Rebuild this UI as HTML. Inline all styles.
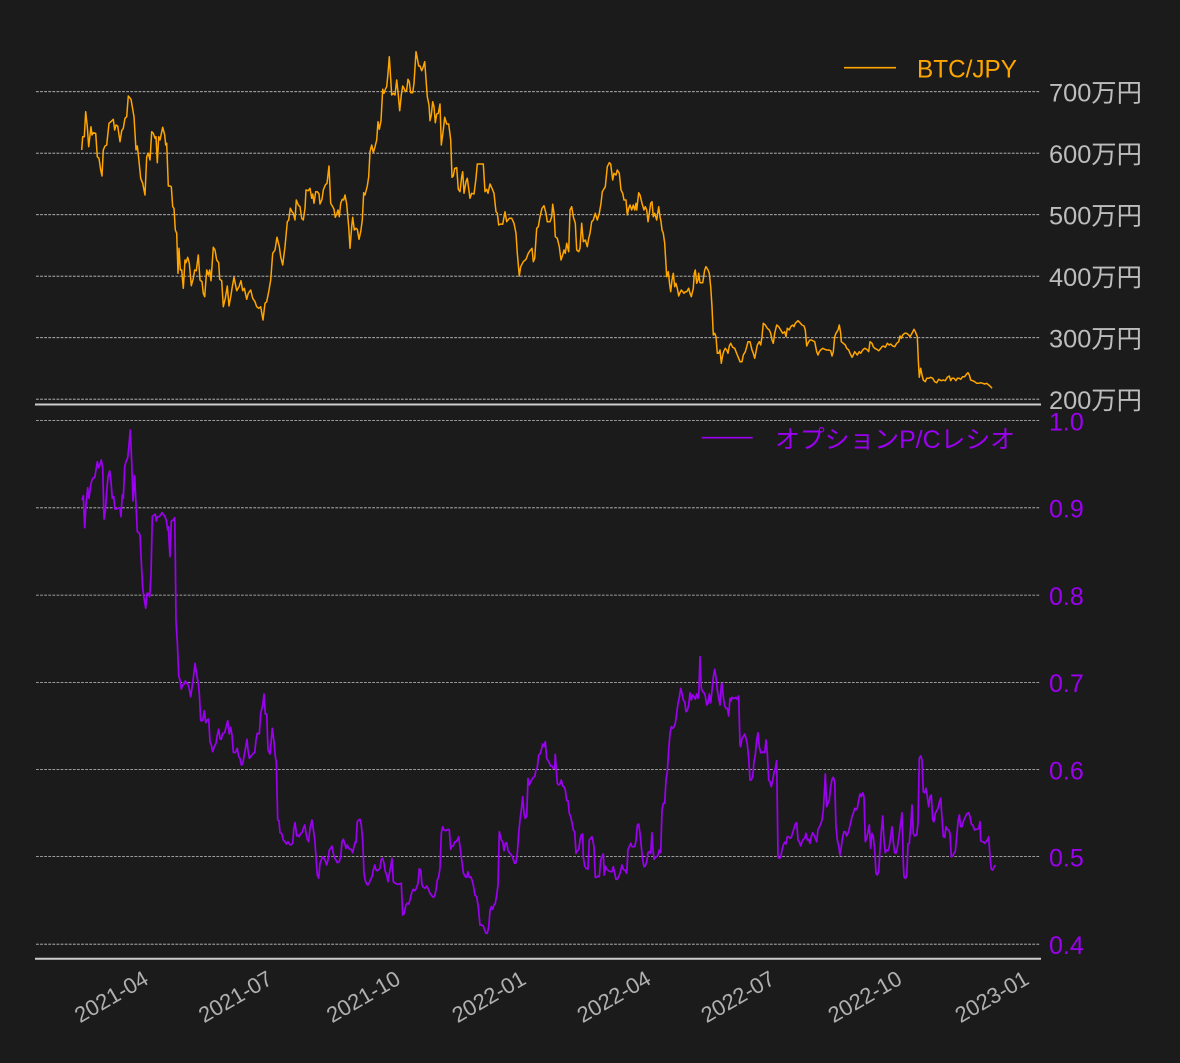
<!DOCTYPE html>
<html>
<head>
<meta charset="utf-8">
<style>
html,body{margin:0;padding:0;background:#1b1b1b;}
svg{display:block;}
text{font-family:"Liberation Sans","Noto Sans CJK JP",sans-serif;}
</style>
</head>
<body>
<svg width="1180" height="1063" viewBox="0 0 1180 1063" xmlns="http://www.w3.org/2000/svg">
<rect x="0" y="0" width="1180" height="1063" fill="#1b1b1b"/>

<!-- top grid -->
<g stroke="#c4c4c4" stroke-width="0.8" stroke-dasharray="2.8 1.3" fill="none">
<line x1="36" y1="91.7" x2="1040" y2="91.7"/>
<line x1="36" y1="153.2" x2="1040" y2="153.2"/>
<line x1="36" y1="214.7" x2="1040" y2="214.7"/>
<line x1="36" y1="276.2" x2="1040" y2="276.2"/>
<line x1="36" y1="337.7" x2="1040" y2="337.7"/>
<line x1="36" y1="399.2" x2="1040" y2="399.2"/>
</g>
<!-- bottom grid -->
<g stroke="#c4c4c4" stroke-width="0.8" stroke-dasharray="2.8 1.3" fill="none">
<line x1="36" y1="420.5" x2="1040" y2="420.5"/>
<line x1="36" y1="507.8" x2="1040" y2="507.8"/>
<line x1="36" y1="595.1" x2="1040" y2="595.1"/>
<line x1="36" y1="682.4" x2="1040" y2="682.4"/>
<line x1="36" y1="769.5" x2="1040" y2="769.5"/>
<line x1="36" y1="856.6" x2="1040" y2="856.6"/>
<line x1="36" y1="944.2" x2="1040" y2="944.2"/>
</g>

<!-- spines -->
<line x1="35" y1="404.5" x2="1041" y2="404.5" stroke="#cccccc" stroke-width="2"/>
<line x1="35" y1="958.7" x2="1041" y2="958.7" stroke="#cccccc" stroke-width="2"/>

<!-- BTC/JPY series -->
<polyline fill="none" stroke="#ffa500" stroke-width="1.5" stroke-linejoin="round" points="
81.7,150.0 82.7,136.7 84.3,136.7 85.7,111.7 87.3,126.7 88.7,146.7 91.0,126.7 92.0,135.0 93.3,132.7 95.7,133.3 97.3,156.7 99.0,158.3 100.7,170.0 102.0,176.0 103.3,150.0 105.0,146.0 106.7,145.0 109.0,123.3 111.7,121.0 113.3,119.3 114.7,130.0 116.0,125.0 117.7,126.0 120.0,141.7 121.7,130.7 123.3,128.3 125.0,118.3 126.7,116.7 128.3,96.0 131.0,99.3 134.0,116.7 136.0,150.0 137.3,146.0 138.7,158.3 140.7,178.3 142.7,183.3 145.0,195.0 146.7,156.7 148.3,153.3 150.0,160.0 151.7,131.7 153.3,133.3 155.0,138.3 156.0,136.7 157.3,162.7 158.7,136.7 160.0,140.0 162.7,127.3 164.7,135.0 165.7,145.0 166.7,143.3 168.3,186.0 170.0,186.0 171.3,186.7 172.7,206.7 174.0,208.3 175.3,230.0 176.7,233.3 178.0,273.3 179.0,248.3 180.3,270.0 181.7,270.0 183.3,288.3 185.0,260.0 186.0,262.7 187.7,257.3 189.3,263.3 191.3,285.7 193.3,278.3 194.7,270.0 196.3,270.7 198.3,255.0 200.0,280.0 202.0,281.7 203.3,293.3 204.7,296.7 206.7,270.0 208.3,275.0 209.7,270.0 211.0,280.7 213.3,247.3 215.0,250.0 216.7,260.0 218.7,262.7 219.7,279.3 221.7,280.7 223.3,306.7 225.3,298.3 227.3,286.0 229.0,306.0 231.0,295.0 232.3,286.7 234.0,277.3 236.7,290.7 239.0,286.7 241.0,280.7 242.7,290.7 244.3,288.3 246.7,299.3 248.3,293.3 250.7,290.0 252.7,298.3 255.0,301.7 256.7,306.7 258.7,308.3 260.7,306.7 263.0,320.0 265.0,303.3 266.7,301.7 268.7,291.7 270.7,280.0 272.7,253.3 275.0,250.0 277.0,237.3 279.3,246.7 280.7,256.7 282.7,265.0 285.0,246.7 287.3,221.7 288.7,220.0 290.3,208.3 292.0,211.7 293.3,213.3 295.0,220.0 296.3,200.0 298.3,205.0 300.0,206.7 301.7,218.3 303.3,220.0 305.0,208.3 306.0,190.0 308.3,190.7 310.0,188.3 311.7,198.3 312.7,194.0 314.0,203.3 315.7,191.7 317.3,191.7 319.0,194.0 320.0,204.0 322.0,199.3 323.3,190.0 325.3,185.0 327.0,183.3 329.0,166.0 330.7,203.3 332.7,206.7 334.0,209.3 335.3,217.3 336.7,214.0 338.0,210.0 339.3,216.7 340.7,203.3 342.3,199.3 343.7,200.0 345.0,195.0 346.7,204.0 348.7,226.7 350.0,248.3 351.7,226.7 352.7,217.3 354.3,230.0 356.0,228.3 357.3,229.3 359.0,239.3 360.7,231.7 362.3,220.0 363.7,192.7 365.0,195.0 367.3,186.0 368.7,176.7 370.0,151.7 371.7,145.0 373.3,152.7 375.0,146.7 376.7,140.0 378.0,121.7 379.3,129.3 381.0,120.7 382.7,89.3 384.0,93.3 385.3,89.3 386.7,86.7 388.0,73.3 389.3,56.7 391.7,95.0 393.3,93.3 395.0,95.0 396.7,80.0 398.3,95.0 399.7,110.7 401.3,95.0 402.7,86.0 404.0,88.3 405.3,91.7 406.7,90.0 408.0,79.3 409.3,81.7 410.7,92.7 412.7,92.7 414.0,83.3 416.0,51.7 417.3,58.3 418.7,66.0 420.0,66.0 421.7,70.7 423.3,66.7 424.7,61.7 427.3,96.7 429.0,105.0 430.0,120.7 431.3,115.0 432.7,101.7 434.0,106.7 435.3,122.7 436.7,114.0 438.3,113.3 440.0,104.0 441.3,145.0 443.3,130.0 444.7,117.3 446.7,124.0 448.7,124.0 450.7,140.0 452.0,177.3 453.3,176.0 454.7,168.3 456.7,167.7 458.3,189.3 460.0,191.7 461.7,176.7 462.7,171.7 464.0,193.3 466.0,181.7 467.3,178.3 470.0,198.3 471.7,193.3 474.0,194.0 476.0,178.3 477.3,164.0 480.0,164.0 482.0,164.0 483.3,164.0 485.0,191.7 486.7,189.3 488.0,193.3 490.0,184.0 492.0,188.3 494.0,193.3 496.0,211.7 497.3,213.3 498.7,225.0 500.7,224.0 502.7,224.3 505.0,211.7 506.7,221.7 509.3,218.3 511.7,218.3 514.0,223.3 516.0,233.3 517.3,253.3 519.3,276.0 520.7,266.7 523.3,261.7 526.0,259.3 528.3,253.3 530.0,250.7 532.0,248.3 533.3,261.7 534.7,258.3 536.7,228.3 538.3,226.7 540.0,216.7 542.0,208.3 544.0,205.7 546.0,213.3 547.3,221.7 550.0,221.7 551.7,216.7 552.7,204.3 554.0,213.3 555.3,236.7 557.3,238.3 559.3,246.7 561.0,260.0 562.7,255.0 564.0,250.0 565.3,253.3 566.7,243.3 568.7,251.7 570.0,210.0 571.7,206.7 573.3,216.7 575.3,223.3 576.7,250.0 578.7,251.7 580.0,248.3 581.7,223.3 583.3,241.7 585.3,240.0 587.3,246.7 588.7,238.3 590.0,233.3 591.7,221.7 593.3,220.0 595.3,213.3 597.3,220.0 599.3,213.3 601.0,203.3 602.3,191.7 603.3,190.0 605.3,186.7 607.3,166.7 609.3,162.7 610.7,164.0 612.7,180.0 614.0,173.3 616.0,175.0 617.3,170.0 619.3,173.3 621.0,190.0 622.7,193.3 624.0,200.0 626.0,200.0 627.3,215.0 628.7,208.3 630.0,205.0 631.7,210.0 633.3,205.0 634.7,210.0 636.0,203.3 636.7,210.0 638.7,192.7 640.0,195.0 642.0,203.3 644.0,210.0 645.3,206.7 646.7,210.0 648.0,221.7 649.3,213.3 650.7,203.3 652.0,201.7 653.3,216.7 654.7,213.3 656.7,220.0 658.7,206.7 660.0,216.7 661.0,221.7 662.0,230.0 663.3,233.3 664.7,243.3 666.7,276.7 668.3,271.7 669.7,285.0 670.7,291.7 672.0,280.0 673.3,273.3 674.7,286.7 676.0,283.3 677.3,288.3 678.7,296.0 680.0,292.7 681.3,290.0 682.7,291.7 684.0,293.3 685.3,291.7 686.7,291.7 688.7,288.3 690.0,293.3 691.3,296.7 693.3,288.3 694.3,273.3 695.3,270.0 696.7,283.3 698.0,280.0 698.7,273.3 700.0,282.7 702.7,282.7 704.7,270.0 706.0,266.7 708.0,270.0 709.3,273.3 710.7,286.7 712.0,306.7 713.3,335.0 714.7,333.3 716.0,336.7 717.3,353.3 718.7,353.3 720.0,350.0 721.3,363.3 722.7,355.0 724.0,350.7 725.3,348.3 726.7,350.0 728.0,353.3 729.3,346.0 730.7,343.3 732.7,347.3 734.7,348.3 736.0,351.7 737.3,355.0 738.7,358.3 740.0,361.7 742.0,361.7 743.3,355.0 745.3,351.7 746.7,346.7 748.0,341.7 750.0,341.7 752.0,350.0 753.3,353.3 754.7,358.3 756.0,351.7 757.3,345.0 759.3,341.7 760.7,345.0 762.0,336.7 763.3,323.3 765.3,325.0 767.3,328.3 769.3,330.0 770.7,333.3 772.0,340.0 773.3,343.3 774.7,333.3 776.7,325.0 778.7,326.7 780.7,330.0 782.7,333.3 784.7,331.7 786.0,336.7 787.3,328.3 789.3,330.0 790.7,326.7 792.7,325.0 794.0,326.7 795.3,323.3 798.0,320.7 800.0,322.7 802.0,325.0 804.0,326.0 805.3,330.0 806.7,346.0 808.7,341.7 810.0,340.0 811.3,340.0 813.3,341.0 814.7,341.7 816.7,351.7 818.0,355.0 819.3,351.7 820.7,350.0 822.7,348.3 824.7,349.3 826.7,350.0 828.7,350.0 830.7,350.7 832.0,356.0 833.3,351.7 834.7,336.7 836.0,333.3 838.0,330.0 839.3,325.0 840.7,333.3 841.3,341.7 843.3,343.3 845.3,345.0 846.7,348.3 848.7,350.0 850.0,353.3 852.0,357.3 853.3,355.0 854.7,351.7 856.0,353.3 857.3,355.0 859.3,351.7 860.7,353.3 862.7,350.0 864.7,348.3 866.7,349.3 868.7,351.7 870.0,341.7 872.0,343.3 873.3,346.7 874.7,348.3 876.7,349.3 878.7,350.7 880.0,349.3 882.0,346.7 883.3,346.0 885.3,347.3 887.3,343.3 889.3,345.0 890.7,344.0 892.7,346.0 894.7,346.7 896.7,343.3 898.7,341.7 900.0,336.0 901.3,338.3 902.7,335.0 904.7,333.3 906.7,333.3 908.7,335.0 910.0,336.7 912.0,333.3 914.0,329.3 915.3,331.7 917.3,336.7 918.3,360.0 919.3,377.3 920.7,368.3 922.0,375.0 923.3,380.0 925.3,381.7 926.7,378.3 928.7,378.3 930.7,377.3 932.7,378.3 934.7,381.7 936.7,382.7 938.7,379.3 941.3,380.7 943.3,380.0 945.3,380.7 947.3,377.3 949.3,376.0 950.7,380.7 952.0,378.3 954.0,378.3 956.0,380.7 957.3,378.3 959.3,378.3 960.7,379.3 962.7,376.7 964.7,376.7 966.7,374.0 968.0,372.7 969.3,375.0 970.7,380.0 972.7,380.7 974.7,381.7 976.7,383.3 978.7,383.3 980.7,382.7 982.7,383.3 984.7,384.0 986.7,383.3 988.7,385.0 990.7,386.7 992.0,388.3"/>

<!-- P/C ratio series -->
<polyline fill="none" stroke="#9b00f0" stroke-width="1.7" stroke-linejoin="round" points="
82.0,500.0 83.3,495.7 84.7,527.7 86.0,505.0 87.7,487.7 89.0,498.3 90.7,485.0 92.0,480.0 93.3,477.7 94.7,477.7 96.0,470.0 97.3,461.7 98.7,467.7 100.0,464.3 101.3,460.0 102.7,468.3 104.0,519.0 105.3,511.7 106.7,491.7 108.0,476.7 109.7,471.0 111.0,481.7 112.3,498.3 113.7,496.7 115.0,509.0 116.7,509.0 118.7,507.7 120.0,508.3 121.0,516.7 122.3,495.0 123.3,498.3 124.7,466.7 126.0,461.7 127.7,457.7 129.0,445.0 130.3,430.0 131.7,461.7 133.0,501.0 134.7,475.7 136.0,505.0 137.3,531.7 138.7,532.3 140.0,535.0 141.3,561.7 142.7,588.3 144.0,597.7 145.7,608.3 147.0,593.3 148.3,593.3 149.7,596.7 151.0,575.0 152.3,516.7 154.0,515.0 155.3,514.3 156.3,521.0 157.7,516.7 159.3,516.7 160.7,515.0 162.0,512.7 163.3,514.3 165.0,516.7 166.3,520.0 167.7,530.0 168.3,526.7 169.3,545.0 170.0,556.7 171.3,521.0 173.3,520.0 174.7,517.7 175.3,555.0 176.0,621.7 177.3,641.7 178.7,675.7 180.0,680.0 181.3,689.0 182.7,685.0 184.0,684.3 185.3,681.0 186.7,683.3 188.0,684.3 189.3,689.0 190.7,696.7 192.0,687.7 193.3,678.3 195.0,663.3 196.0,670.0 197.3,678.3 198.3,683.3 199.3,693.3 200.7,720.7 202.7,720.7 204.3,710.7 205.7,722.7 207.0,720.0 208.7,719.0 210.0,741.7 211.3,745.0 212.7,751.7 214.0,747.3 216.0,743.3 217.3,735.0 218.7,729.3 220.0,738.7 221.3,739.3 222.7,733.3 224.7,732.7 226.0,727.3 227.7,720.7 229.3,734.0 230.7,727.3 232.0,735.0 233.3,752.3 235.3,752.7 237.3,748.3 238.7,756.7 240.0,758.3 241.3,765.0 242.7,764.0 244.0,756.7 245.3,749.3 247.0,739.3 248.0,750.0 249.3,758.3 250.7,756.7 252.0,755.0 253.3,753.3 254.7,752.7 256.0,740.0 257.3,733.3 259.3,734.0 260.7,713.3 262.7,705.0 264.0,694.0 265.3,714.0 266.7,714.0 268.0,750.0 270.0,754.0 271.3,740.0 272.3,728.3 274.0,741.7 275.3,756.7 276.3,761.7 277.7,820.0 279.0,820.7 280.0,832.7 281.7,833.3 283.3,840.0 285.0,841.7 286.3,844.0 288.0,841.7 289.3,844.0 290.7,845.0 292.7,843.3 293.7,830.0 295.0,822.7 296.0,830.0 296.7,836.0 298.0,835.0 299.3,836.7 300.7,833.3 302.0,832.7 303.3,828.3 304.7,825.0 306.0,833.3 307.3,839.3 308.7,841.7 310.0,828.3 312.0,820.0 313.3,829.3 314.7,839.3 316.0,856.7 317.3,875.0 318.7,878.3 320.0,863.3 321.3,860.0 322.7,856.7 324.0,858.3 325.3,860.7 326.7,865.0 328.0,860.0 329.3,850.0 330.7,848.3 332.0,846.0 333.3,853.3 334.7,858.3 336.0,860.0 337.3,862.7 339.3,861.7 340.7,856.7 342.0,841.7 343.3,839.3 344.7,843.3 346.0,848.3 347.3,845.0 348.7,848.3 350.0,849.3 351.3,849.3 352.7,852.7 354.0,846.7 355.3,841.7 356.0,842.7 357.3,821.7 358.7,820.0 360.0,819.3 361.3,825.0 362.7,840.0 364.0,873.3 365.3,880.7 366.7,884.0 368.0,885.0 369.3,882.7 370.7,879.3 372.0,876.7 373.3,870.0 374.7,865.0 376.0,870.0 377.3,870.7 378.7,870.0 380.0,868.3 381.3,859.3 382.7,858.3 384.0,863.3 385.3,871.7 386.7,875.0 388.0,881.7 389.3,873.3 390.7,866.7 392.0,858.3 393.3,881.7 395.3,883.3 397.3,884.3 399.3,884.0 401.3,883.3 402.7,915.0 404.0,914.0 406.0,905.0 407.3,903.3 408.7,904.0 410.0,900.0 412.0,891.7 413.3,889.3 415.0,890.7 416.3,888.3 418.0,883.3 419.3,868.7 420.7,870.0 422.0,885.0 423.3,887.3 425.3,888.3 426.7,886.0 428.0,888.3 430.0,893.3 432.0,896.0 433.3,897.3 434.7,896.0 436.0,890.0 437.3,880.0 438.7,876.7 440.0,868.3 441.3,833.3 442.7,826.7 444.0,830.0 446.0,830.7 448.0,829.3 449.3,830.0 450.7,849.3 452.0,846.0 453.3,846.0 454.7,841.7 456.0,841.7 457.3,840.0 458.7,836.7 460.0,846.7 461.7,860.0 463.3,872.7 465.3,876.7 466.7,877.3 468.0,871.7 469.3,877.3 470.7,876.7 472.0,880.0 473.3,885.0 475.0,895.0 476.7,896.7 478.3,906.7 480.0,925.0 481.7,925.0 483.3,926.0 484.7,930.0 486.0,933.3 487.3,933.3 488.7,927.3 490.0,910.7 491.3,906.7 492.7,909.3 494.0,905.0 495.3,903.3 496.7,895.0 498.0,885.0 499.3,831.7 501.3,840.0 502.7,841.7 504.0,850.7 505.3,843.3 506.7,842.7 508.0,850.0 509.3,852.7 510.7,854.0 512.0,856.0 513.3,859.3 514.7,863.3 516.0,862.7 517.3,853.3 518.7,833.3 520.0,820.0 521.3,810.0 522.7,796.7 524.0,813.3 525.3,818.3 526.7,816.7 528.0,778.3 529.3,785.0 530.7,781.7 532.0,779.3 533.3,777.3 534.7,776.7 536.0,770.0 537.3,767.3 538.7,755.0 540.0,754.3 541.3,750.0 542.7,744.0 544.0,746.7 545.3,741.7 546.7,758.3 548.0,760.7 549.3,762.7 550.7,766.0 552.0,766.0 553.3,768.3 554.7,768.3 555.3,754.3 556.0,765.0 557.3,783.3 558.7,785.0 560.0,784.0 561.3,780.0 562.7,786.0 564.0,786.7 565.3,790.0 566.7,800.7 568.0,800.7 569.3,813.3 570.7,816.7 572.0,822.7 573.3,830.0 574.7,831.7 576.0,853.3 577.3,850.7 578.7,850.0 580.0,840.0 581.3,835.0 582.7,834.0 583.3,856.7 584.7,866.0 586.0,868.3 588.0,869.3 589.3,840.0 590.7,838.3 592.0,836.7 592.7,840.0 594.0,846.7 595.3,877.3 596.7,877.3 598.0,876.0 599.3,876.7 600.7,860.0 602.0,856.7 603.3,854.0 604.3,875.0 605.3,866.0 606.7,869.3 608.7,870.7 610.7,871.7 612.0,871.7 613.3,866.7 614.7,873.3 616.0,879.3 617.3,879.3 618.7,876.7 620.0,873.3 622.0,865.0 623.3,869.3 625.3,870.7 626.7,873.3 628.0,849.3 629.3,846.7 630.7,843.3 632.0,846.7 634.7,846.7 636.0,840.7 637.3,825.3 638.7,824.0 640.0,833.3 641.3,846.7 642.7,860.0 644.0,866.7 645.3,866.0 646.7,861.7 648.0,852.7 649.3,851.7 650.7,853.3 652.0,832.7 652.7,846.7 654.0,859.3 655.3,857.3 656.7,856.7 658.0,855.0 659.3,850.0 660.7,852.7 662.0,810.0 663.3,803.3 664.7,803.3 666.0,780.0 667.3,771.7 668.7,750.0 670.0,733.3 671.3,726.7 672.7,728.3 674.0,726.7 675.3,723.3 676.7,713.3 678.0,703.3 679.3,697.3 680.7,688.3 682.0,693.3 683.3,700.0 684.7,701.7 686.0,711.7 687.3,710.7 688.7,705.0 690.0,692.7 691.3,700.0 692.7,695.0 694.0,696.7 695.3,699.3 696.7,694.0 698.0,698.3 698.7,697.3 700.0,656.7 701.3,688.3 702.7,691.7 704.0,692.7 705.3,696.0 706.7,705.0 708.0,703.3 709.3,694.0 710.7,702.7 712.0,690.7 713.3,677.3 714.7,669.3 716.0,677.3 717.3,690.0 718.7,698.3 720.0,705.0 721.3,685.0 722.0,683.3 723.3,696.7 724.7,706.0 726.0,708.3 727.3,708.3 728.7,716.0 730.0,698.3 731.3,700.7 732.0,697.3 733.3,698.3 734.7,698.3 736.0,697.3 737.3,699.3 738.7,696.0 740.0,745.0 740.7,746.7 742.0,738.3 743.3,736.7 744.7,734.0 746.0,738.3 747.3,744.0 748.7,758.3 750.0,780.0 751.3,780.0 752.7,776.7 754.0,761.7 755.3,755.0 756.7,740.0 758.0,732.7 759.3,746.7 760.7,752.7 762.0,752.7 763.3,751.7 764.7,752.7 766.0,740.0 767.3,753.3 768.7,780.0 770.0,781.7 771.3,786.7 772.7,780.0 774.0,772.7 775.3,768.3 776.7,760.7 778.0,856.7 779.3,858.3 780.7,857.3 782.0,850.0 783.3,845.0 784.7,842.3 786.0,844.0 787.3,836.7 788.7,836.7 790.0,838.3 791.3,837.3 792.7,832.7 794.0,828.3 795.3,824.0 796.7,822.7 798.0,840.0 799.3,841.7 800.7,846.0 802.0,841.7 803.3,839.3 804.7,838.3 806.0,833.3 807.3,840.0 808.7,839.3 810.0,843.3 811.3,836.7 812.7,832.7 814.0,835.0 815.3,838.3 816.7,841.7 818.0,829.3 819.3,827.3 820.7,824.0 822.0,820.0 823.3,810.0 824.7,786.7 825.3,774.0 826.7,806.7 828.0,803.3 829.3,800.0 830.7,786.7 832.0,779.3 833.3,777.3 834.7,781.7 836.0,826.7 837.3,840.0 838.7,846.0 840.0,855.0 841.3,846.7 842.7,836.7 844.0,831.7 845.3,831.7 846.7,836.0 848.0,833.3 849.3,828.3 850.7,822.7 852.0,816.7 853.3,813.3 854.7,808.3 856.0,810.0 857.3,808.3 858.7,800.0 860.0,794.0 861.3,796.7 862.7,792.7 864.0,796.7 865.3,841.7 866.7,838.3 868.0,831.7 869.3,825.0 870.7,848.3 872.0,833.3 873.3,836.7 874.7,850.0 876.0,873.3 877.3,875.0 878.7,871.7 880.0,850.0 881.3,831.7 882.7,816.0 884.0,840.0 885.3,852.7 886.7,850.0 888.0,850.7 889.3,846.7 890.7,836.7 892.0,826.7 893.3,841.7 894.7,852.7 896.0,853.3 897.3,848.3 898.7,838.3 900.7,822.7 902.0,812.7 903.3,863.3 904.0,876.7 905.3,878.3 906.7,876.7 908.0,844.0 909.3,843.3 910.7,826.7 912.0,805.0 913.3,833.3 914.7,836.0 916.7,835.0 918.0,823.3 919.3,758.3 920.7,756.0 922.0,760.0 923.3,791.7 924.7,792.7 926.0,788.3 927.3,796.7 928.7,806.7 930.0,796.7 931.3,795.0 932.7,820.0 934.0,821.7 935.3,813.3 936.7,810.7 938.0,808.3 939.3,802.7 940.7,798.3 942.0,818.3 943.3,836.7 944.7,837.3 946.0,826.7 947.3,829.3 948.7,830.0 950.0,833.3 951.3,856.7 952.7,856.0 954.0,853.3 955.3,851.7 956.7,836.7 958.0,821.7 959.3,815.0 960.7,826.7 962.0,826.7 963.3,821.7 964.7,818.3 966.7,814.0 968.7,812.7 970.0,816.7 971.3,824.0 972.7,825.0 974.7,830.0 976.0,829.3 977.3,829.3 978.7,828.3 980.0,821.7 980.7,840.7 982.0,841.7 983.3,841.7 984.7,843.3 986.0,841.7 987.3,840.0 988.7,836.7 990.0,856.7 991.3,869.3 992.7,870.0 994.0,867.3 995.3,865.0"/>

<!-- top y tick labels -->
<g fill="#bdbdbd" font-size="25">
<text x="1049" y="101.7" textLength="93" lengthAdjust="spacingAndGlyphs">700万円</text>
<text x="1049" y="163.2" textLength="93" lengthAdjust="spacingAndGlyphs">600万円</text>
<text x="1049" y="224.7" textLength="93" lengthAdjust="spacingAndGlyphs">500万円</text>
<text x="1049" y="286.2" textLength="93" lengthAdjust="spacingAndGlyphs">400万円</text>
<text x="1049" y="347.7" textLength="93" lengthAdjust="spacingAndGlyphs">300万円</text>
<text x="1049" y="409.2" textLength="93" lengthAdjust="spacingAndGlyphs">200万円</text>
</g>

<!-- bottom y tick labels -->
<g fill="#9b00f0" font-size="25">
<text x="1049" y="430.3">1.0</text>
<text x="1049" y="517.6">0.9</text>
<text x="1049" y="604.9">0.8</text>
<text x="1049" y="692.2">0.7</text>
<text x="1049" y="779.6">0.6</text>
<text x="1049" y="866.6">0.5</text>
<text x="1049" y="954.1">0.4</text>
</g>

<!-- legends -->
<line x1="844" y1="67.7" x2="896" y2="67.7" stroke="#ffa500" stroke-width="1.6"/>
<text x="917" y="77.7" fill="#ffa500" font-size="25" textLength="100" lengthAdjust="spacingAndGlyphs">BTC/JPY</text>

<line x1="701.7" y1="437.7" x2="752.7" y2="437.7" stroke="#9b00f0" stroke-width="1.7"/>
<text x="775" y="448" fill="#9b00f0" font-size="25" textLength="240" lengthAdjust="spacingAndGlyphs">オプションP/Cレシオ</text>

<!-- x tick labels -->
<g fill="#b0b0b0" font-size="22" text-anchor="end">
<text x="150" y="983" transform="rotate(-30 150 983)">2021-04</text>
<text x="274" y="983" transform="rotate(-30 274 983)">2021-07</text>
<text x="402" y="983" transform="rotate(-30 402 983)">2021-10</text>
<text x="527.5" y="983" transform="rotate(-30 527.5 983)">2022-01</text>
<text x="652.5" y="983" transform="rotate(-30 652.5 983)">2022-04</text>
<text x="776.5" y="983" transform="rotate(-30 776.5 983)">2022-07</text>
<text x="903.5" y="983" transform="rotate(-30 903.5 983)">2022-10</text>
<text x="1030.5" y="983" transform="rotate(-30 1030.5 983)">2023-01</text>
</g>
</svg>
</body>
</html>
